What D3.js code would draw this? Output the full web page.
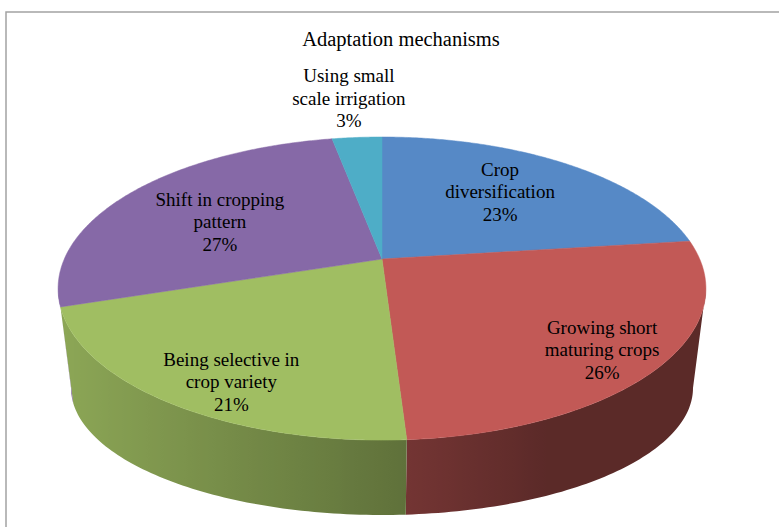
<!DOCTYPE html>
<html>
<head>
<meta charset="utf-8">
<script src="https://cdn.jsdelivr.net/npm/d3@7"></script>
<style>
  body { margin: 0; background: #fff; }
  text { font-family: "Liberation Serif", "Times New Roman", serif; fill: #000; }
</style>
</head>
<body>
<div id="chart"></div>
<script>
var width = 779;
var height = 527;

// data
var categories = ["Crop diversification", "Growing short maturing crops", "Being selective in crop variety", "Shift in cropping pattern", "Using small scale irrigation"];
var labelLines = [["Crop", "diversification"], ["Growing short", "maturing crops"], ["Being selective in", "crop variety"], ["Shift in cropping", "pattern"], ["Using small", "scale irrigation"]];
var values = [23, 26, 21, 27, 3];
var title = "Adaptation mechanisms";

// styles / layout
var colors = ["#5689c6", "#c25956", "#a0be62", "#8669a7", "#4eadc7"];
var labelNudge = [-2.5, 2.3, -4.8, -4.1, 0];   // degrees
var labelRho = [0.65, 0.83, 0.83, 0.6, 1.41];

// fake 3d projection of the pie top
var CX = 382, CY = 259, A = 317.7, B = 145.8, K = 0.195;
// outline ellipse of the top + bottom ellipse
var OX = 382, OY = 288.5, RX = 324, RY = 151.5;
var BY = 388, BRX = 311, BRY = 127;

function proj(theta, rho){
	var s = Math.sin(theta), c = Math.cos(theta);
	var w = 1 + K * rho * c;
	return [CX + A * rho * s / w, CY - B * rho * c / w];
}
function bottom(theta){
	var p = proj(theta, 1);
	var a = Math.atan2((p[0] - OX) / RX, (OY - p[1]) / RY);
	return [OX + BRX * Math.sin(a), BY - BRY * Math.cos(a)];
}
function shade(col, theta){
	var s = Math.sin(theta), c = Math.cos(theta);
	var dot = (-s - 0.2 * c) / 1.0198;
	var f = Math.max(0.47, 0.55 + 0.33 * dot);
	var r = d3.rgb(col);
	return d3.rgb(r.r * f, r.g * f, r.b * f);
}

var svg = d3.select("#chart").append("svg").attr("width", width).attr("height", height);
var defs = svg.append("defs");

svg.append("path")
	.attr("d", "M6," + height + "V12H" + width)
	.attr("fill", "none")
	.attr("stroke", "#a3a3a3")
	.attr("stroke-width", 1.5);

svg.append("text")
	.attr("x", 401)
	.attr("y", 46)
	.attr("text-anchor", "middle")
	.style("font-size", "20.5px")
	.text(title);

var pie = d3.pie().sort(null).value(function(d){ return d; });
var arcs = pie(values);
var line = d3.line();

// visible part of the side wall (front half)
var thR = Math.acos(-K), thL = 2 * Math.PI - thR;
var sides = [];
arcs.forEach(function(a, i){
	var t0 = Math.max(a.startAngle, thR), t1 = Math.min(a.endAngle, thL);
	if (t1 <= t0) return;
	var n = Math.max(4, Math.ceil((t1 - t0) / (Math.PI / 180)));
	var tops = [], bots = [], stops = [];
	for (var j = 0; j <= n; j++){
		var t = t0 + (t1 - t0) * j / n;
		tops.push(proj(t, 1));
		bots.push(bottom(t));
		stops.push({x: proj(t, 1)[0], col: shade(colors[i], t)});
	}
	stops.sort(function(p, q){ return p.x - q.x; });
	sides.push({i: i, pts: tops.concat(bots.reverse()), stops: stops});
});

sides.forEach(function(s){
	var x0 = s.stops[0].x, x1 = s.stops[s.stops.length - 1].x;
	var g = defs.append("linearGradient")
		.attr("id", "side" + s.i)
		.attr("gradientUnits", "userSpaceOnUse")
		.attr("x1", x0).attr("x2", x1).attr("y1", 0).attr("y2", 0);
	s.stops.forEach(function(p){
		g.append("stop")
			.attr("offset", x1 > x0 ? (p.x - x0) / (x1 - x0) : 0)
			.attr("stop-color", p.col);
	});
});

svg.append("g").attr("class", "sides")
	.selectAll("path")
	.data(sides)
	.enter().append("path")
		.attr("d", function(d){ return line(d.pts) + "Z"; })
		.attr("fill", function(d){ return "url(#side" + d.i + ")"; });

// top faces
svg.append("g").attr("class", "tops")
	.selectAll("path")
	.data(arcs)
	.enter().append("path")
		.attr("d", function(a){
			var pts = [[CX, CY]];
			var n = Math.max(4, Math.ceil((a.endAngle - a.startAngle) / (Math.PI / 360)));
			for (var j = 0; j <= n; j++){
				pts.push(proj(a.startAngle + (a.endAngle - a.startAngle) * j / n, 1));
			}
			return line(pts) + "Z";
		})
		.attr("fill", function(d, i){ return colors[i]; })
		.attr("stroke", function(d, i){ return colors[i]; })
		.attr("stroke-width", 0.5);

// labels
var lh = 22.5;
var labels = svg.append("g").attr("class", "labels")
	.selectAll("text")
	.data(arcs)
	.enter().append("text")
		.attr("text-anchor", "middle")
		.style("font-size", "19px")
		.attr("transform", function(a, i){
			var mid = (a.startAngle + a.endAngle) / 2 + labelNudge[i] * Math.PI / 180;
			var p = proj(mid, labelRho[i]);
			return "translate(" + p[0] + "," + p[1] + ")";
		});

labels.each(function(a, i){
	var t = d3.select(this);
	var lines = labelLines[i].concat([a.data + "%"]);
	lines.forEach(function(l, k){
		t.append("tspan")
			.attr("x", 0)
			.attr("y", (k - 1) * lh + 6.5)
			.text(l);
	});
});
</script>
</body>
</html>
